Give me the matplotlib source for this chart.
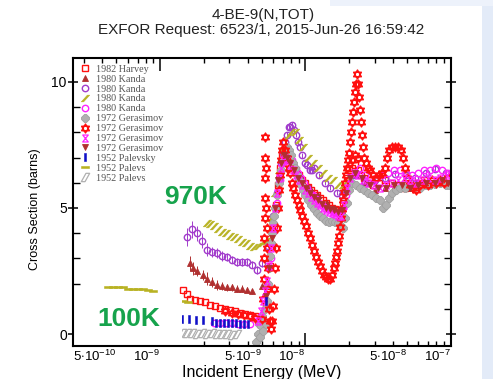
import matplotlib
matplotlib.use('Agg')
import matplotlib.pyplot as plt
from matplotlib.path import Path
from matplotlib.patches import Rectangle
from matplotlib.ticker import FixedLocator, FixedFormatter
from matplotlib.font_manager import FontProperties

plt.rcParams['font.family'] = ['Liberation Sans', 'DejaVu Sans']
plt.rcParams['mathtext.fontset'] = 'custom'
plt.rcParams['mathtext.rm'] = 'Liberation Sans'
plt.rcParams['mathtext.it'] = 'Liberation Sans:italic'
plt.rcParams['mathtext.bf'] = 'Liberation Sans:bold'

# ---------------- data (energy in MeV, cross section in barns) ----------------
harvey_x = [1.44e-9, 1.53e-9, 1.61e-9, 1.74e-9, 1.89e-9, 2.04e-9, 2.21e-9, 2.39e-9, 2.59e-9, 2.81e-9,
            3.04e-9, 3.29e-9, 3.56e-9, 3.86e-9, 4.18e-9, 4.52e-9, 5.04e-9,
            5.38e-9, 5.56e-9, 5.74e-9, 5.92e-9, 6.11e-9, 6.31e-9, 6.51e-9, 6.72e-9, 6.94e-9, 7.16e-9,
            7.51e-9, 7.88e-9, 8.27e-9, 8.67e-9, 9.09e-9, 9.54e-9, 1.0e-8, 1.049e-8, 1.100e-8, 1.154e-8,
            1.210e-8, 1.269e-8, 1.331e-8, 1.396e-8, 1.464e-8, 1.535e-8, 1.610e-8, 1.689e-8, 1.771e-8, 1.829e-8,
            1.887e-8, 1.948e-8, 2.011e-8, 2.110e-8, 2.213e-8, 2.321e-8, 2.434e-8, 2.553e-8, 2.720e-8, 2.944e-8,
            3.238e-8, 3.562e-8, 3.981e-8, 4.379e-8, 4.894e-8, 5.298e-8, 5.828e-8, 6.617e-8, 7.513e-8, 8.531e-8,
            9.687e-8]
harvey_y = [1.75, 1.6, 1.4, 1.35, 1.3, 1.25, 1.15, 1.1, 1.05, 1.0,
            0.95, 0.9, 0.85, 0.8, 0.75, 0.7, 0.6,
            1.2, 1.9, 2.7, 3.5, 4.3, 5.1, 5.9, 6.6, 7.1, 7.3,
            7.1, 6.9, 6.7, 6.5, 6.3, 6.1, 6.0, 5.85, 5.7, 5.6,
            5.5, 5.4, 5.3, 5.2, 5.1, 5.0, 4.95, 4.9, 4.9, 5.2,
            5.7, 6.2, 6.5, 6.6, 6.7, 6.5, 6.3, 6.2, 6.0, 5.9,
            6.0, 6.1, 6.0, 5.9, 5.8, 5.9, 6.0, 6.1, 6.0, 6.1,
            6.0]

kanda_tri_x = [1.61e-9, 1.69e-9, 1.80e-9, 1.98e-9, 2.11e-9, 2.28e-9, 2.47e-9, 2.68e-9, 2.90e-9, 3.14e-9,
               3.40e-9, 3.68e-9, 3.98e-9, 4.31e-9, 5.05e-9, 5.55e-9, 6.0e-9, 6.5e-9, 7.05e-9, 7.62e-9,
               8.53e-9, 9.5e-9, 1.08e-8, 1.22e-8, 1.40e-8, 1.58e-8, 1.80e-8, 1.98e-8, 2.21e-8, 2.59e-8,
               3.04e-8, 3.56e-8, 4.18e-8, 5.30e-8, 6.73e-8, 8.53e-8]
kanda_tri_y = [2.8, 2.6, 2.5, 2.35, 2.2, 2.05, 1.95, 1.9, 1.85, 1.85,
               1.8, 1.8, 1.75, 1.7, 1.9, 3.0, 4.5, 6.0, 7.0, 6.9,
               6.5, 6.2, 5.8, 5.5, 5.2, 5.0, 4.9, 5.8, 6.3, 6.0,
               5.7, 5.8, 5.9, 5.8, 5.9, 6.0]
kanda_tri_err = [0.3, 0.25, 0.2, 0.2, 0.25, 0.2, 0.2, 0.15, 0.15, 0.15,
                 0.15, 0.15, 0.1, 0.1, 0.1, 0.1, 0.1, 0.1, 0.1, 0.1,
                 0.1, 0.1, 0.1, 0.1, 0.1, 0.1, 0.1, 0.1, 0.1, 0.1,
                 0.1, 0.1, 0.1, 0.1, 0.1, 0.1]

kanda_circ_x = [1.53e-9, 1.66e-9, 1.80e-9, 1.95e-9, 2.11e-9, 2.28e-9, 2.47e-9, 2.68e-9, 2.90e-9, 3.14e-9,
                3.40e-9, 3.68e-9, 3.98e-9, 4.31e-9, 4.66e-9, 5.05e-9, 5.55e-9, 6.0e-9, 6.42e-9, 6.62e-9,
                6.82e-9, 7.05e-9, 7.28e-9, 7.51e-9, 7.75e-9, 7.88e-9, 8.12e-9, 8.40e-9, 8.65e-9, 8.95e-9,
                9.24e-9, 9.54e-9, 1.0e-8, 1.032e-8, 1.08e-8, 1.118e-8, 1.15e-8, 1.25e-8, 1.37e-8, 1.49e-8,
                1.64e-8, 1.80e-8, 2.21e-8, 2.59e-8, 3.04e-8, 3.56e-8, 4.18e-8, 4.90e-8, 5.74e-8, 6.73e-8,
                7.88e-8, 9.24e-8]
kanda_circ_y = [3.85, 4.15, 4.0, 3.7, 3.35, 3.25, 3.2, 3.1, 3.05, 2.95,
                2.85, 2.85, 2.85, 2.75, 2.55, 2.8, 3.5, 4.7, 5.6, 6.2,
                6.8, 7.2, 7.6, 7.9, 8.2, 8.2, 8.3, 8.1, 7.9, 7.6,
                7.4, 7.1, 6.8, 6.7, 6.5, 6.5, 6.6, 6.3, 6.0, 5.8,
                5.6, 5.5, 6.3, 6.0, 6.1, 6.2, 6.35, 6.3, 6.2, 6.4,
                6.55, 6.4]
kanda_circ_err = [0.35, 0.35, 0.3, 0.3, 0.25, 0.2, 0.2, 0.2, 0.15, 0.15,
                  0.15, 0.15, 0.15, 0.15, 0.15, 0.15, 0.1, 0.1, 0.1, 0.1,
                  0.1, 0.1, 0.1, 0.1, 0.1, 0.1, 0.1, 0.1, 0.1, 0.1,
                  0.1, 0.1, 0.1, 0.1, 0.1, 0.1, 0.1, 0.1, 0.1, 0.1,
                  0.1, 0.1, 0.1, 0.1, 0.1, 0.1, 0.1, 0.1, 0.1, 0.1,
                  0.1, 0.1]

kanda_slash_x = [2.11e-9, 2.21e-9, 2.36e-9, 2.51e-9, 2.68e-9, 2.85e-9, 3.04e-9, 3.24e-9, 3.45e-9, 3.68e-9,
                 3.92e-9, 4.18e-9, 4.45e-9, 4.74e-9, 5.05e-9, 5.38e-9, 5.82e-9, 6.21e-9, 6.6e-9, 7.05e-9,
                 7.5e-9, 8.0e-9, 8.53e-9, 9.1e-9, 9.7e-9, 1.05e-8, 1.13e-8, 1.22e-8, 1.33e-8, 1.44e-8,
                 1.56e-8, 1.69e-8, 1.83e-8, 1.98e-8]
kanda_slash_y = [4.4, 4.35, 4.3, 4.15, 4.05, 4.0, 3.9, 3.85, 3.75, 3.65,
                 3.6, 3.5, 3.45, 3.5, 3.6, 3.7, 4.6, 5.6, 6.5, 7.4,
                 7.8, 8.0, 8.0, 7.7, 7.4, 7.0, 6.8, 6.6, 6.4, 6.2,
                 6.1, 5.9, 5.9, 6.1]

kanda_mag_x = [2.36e-9, 2.59e-9, 2.85e-9, 3.14e-9, 3.45e-9, 3.80e-9, 4.18e-9,
               5.56e-9, 5.83e-9, 6.11e-9, 6.41e-9, 6.72e-9, 7.05e-9, 7.40e-9, 7.76e-9, 8.14e-9, 8.53e-9,
               8.95e-9, 9.38e-9, 9.84e-9, 1.032e-8, 1.083e-8, 1.136e-8, 1.191e-8, 1.249e-8, 1.310e-8, 1.374e-8,
               1.441e-8, 1.511e-8, 1.585e-8, 1.662e-8, 1.743e-8, 1.829e-8, 1.918e-8,
               2.044e-8, 2.213e-8, 2.395e-8, 2.594e-8, 2.808e-8, 3.088e-8, 3.396e-8, 3.74e-8, 4.11e-8, 4.52e-8,
               4.97e-8, 5.47e-8, 6.02e-8, 6.617e-8, 7.28e-8, 8.006e-8, 8.8e-8, 9.687e-8]
kanda_mag_y = [0.45, 0.45, 0.42, 0.42, 0.4, 0.4, 0.38,
               2.0, 3.0, 4.1, 5.2, 6.1, 6.8, 7.2, 7.1, 6.9, 6.6,
               6.4, 6.2, 6.0, 5.8, 5.6, 5.5, 5.35, 5.2, 5.1, 5.0,
               4.95, 4.9, 4.85, 4.8, 4.8, 5.0, 5.5,
               6.0, 6.4, 6.6, 6.3, 6.1, 6.2, 6.3, 6.4, 6.5, 6.5,
               6.4, 6.3, 6.4, 6.5, 6.5, 6.6, 6.5, 6.4]

geras_gray_x = [4.59e-9, 4.74e-9, 4.82e-9, 4.89e-9, 4.97e-9, 5.05e-9, 5.13e-9, 5.22e-9, 5.30e-9, 5.38e-9,
                5.47e-9, 5.56e-9, 5.65e-9, 5.74e-9, 5.83e-9, 5.92e-9, 6.02e-9, 6.11e-9, 6.21e-9, 6.41e-9,
                6.62e-9, 6.83e-9, 7.05e-9, 7.28e-9, 7.51e-9, 7.76e-9, 8.01e-9, 8.27e-9, 8.53e-9, 8.81e-9,
                9.09e-9, 9.38e-9, 9.69e-9, 1.0e-8, 1.049e-8, 1.100e-8, 1.154e-8, 1.210e-8, 1.269e-8, 1.331e-8,
                1.396e-8, 1.464e-8, 1.535e-8, 1.610e-8, 1.689e-8, 1.771e-8, 1.829e-8, 1.887e-8, 1.948e-8, 2.011e-8,
                2.110e-8, 2.248e-8, 2.395e-8, 2.553e-8, 2.720e-8, 2.90e-8, 3.088e-8, 3.29e-8, 3.45e-8, 3.62e-8,
                3.796e-8, 3.981e-8, 4.24e-8, 4.52e-8, 4.894e-8, 5.298e-8, 5.74e-8, 6.211e-8, 6.73e-8, 7.28e-8,
                7.88e-8, 8.531e-8, 9.24e-8, 9.84e-8]
geras_gray_y = [-0.3, 0.0, 0.4, -0.1, 0.3, 0.7, 0.1, 0.5, 1.0, 0.4,
                1.3, 2.0, 2.6, 3.1, 3.6, 4.0, 4.4, 4.7, 5.0, 5.5,
                6.0, 6.5, 6.9, 7.2, 7.4, 7.3, 7.1, 6.8, 6.6, 6.3,
                6.1, 5.9, 5.7, 5.5, 5.3, 5.1, 4.95, 4.8, 4.7, 4.6,
                4.5, 4.45, 4.5, 4.45, 4.4, 4.3, 4.2, 4.6, 5.2, 5.7,
                6.0, 5.9, 5.8, 5.7, 5.6, 5.5, 5.4, 5.3, 5.0, 5.1,
                5.4, 5.6, 5.7, 5.8, 5.8, 5.9, 5.85, 5.8, 5.9, 5.9,
                5.95, 6.0, 5.9, 5.9]

geras_star_x = [2.81e-9, 3.14e-9, 3.45e-9, 3.80e-9, 4.18e-9, 4.52e-9,
                5.05e-9, 5.13e-9, 5.17e-9, 5.22e-9, 5.22e-9, 5.26e-9, 5.26e-9, 5.30e-9, 5.30e-9, 5.30e-9,
                5.34e-9, 5.38e-9, 5.43e-9, 5.47e-9, 5.51e-9, 5.56e-9, 5.65e-9, 5.74e-9, 5.83e-9, 5.92e-9,
                6.02e-9, 6.11e-9, 6.21e-9, 6.31e-9, 6.41e-9, 6.51e-9, 6.62e-9, 6.72e-9, 6.83e-9, 6.94e-9,
                7.05e-9, 7.28e-9, 7.51e-9, 7.76e-9, 7.88e-9, 8.14e-9, 8.27e-9, 8.53e-9, 8.81e-9, 9.09e-9,
                9.24e-9, 9.54e-9, 9.84e-9, 1.016e-8, 1.049e-8, 1.083e-8, 1.118e-8, 1.154e-8, 1.191e-8, 1.229e-8,
                1.269e-8, 1.310e-8, 1.352e-8, 1.396e-8, 1.441e-8, 1.487e-8, 1.535e-8, 1.585e-8, 1.610e-8, 1.636e-8,
                1.662e-8, 1.689e-8, 1.716e-8, 1.743e-8, 1.771e-8, 1.800e-8, 1.829e-8, 1.858e-8, 1.887e-8, 1.918e-8,
                1.948e-8, 1.980e-8, 2.011e-8, 2.044e-8, 2.076e-8, 2.110e-8, 2.143e-8, 2.178e-8, 2.213e-8, 2.248e-8,
                2.284e-8, 2.321e-8, 2.358e-8, 2.395e-8, 2.434e-8, 2.473e-8, 2.512e-8, 2.110e-8, 2.213e-8, 2.321e-8,
                2.553e-8, 2.635e-8, 2.720e-8, 2.808e-8, 2.944e-8, 3.088e-8, 3.238e-8, 3.396e-8, 3.562e-8, 3.678e-8,
                3.796e-8, 3.981e-8, 4.175e-8, 4.379e-8, 4.592e-8, 4.742e-8, 4.894e-8, 5.052e-8, 5.298e-8, 5.557e-8,
                5.828e-8, 6.211e-8, 6.617e-8, 7.052e-8, 7.513e-8, 8.006e-8, 8.531e-8, 9.091e-8, 9.687e-8]
geras_star_y = [0.9, 0.85, 0.8, 0.75, 0.7, 0.65,
                0.6, 1.4, 2.2, 3.0, 3.8, 4.6, 5.4, 6.2, 7.0, 7.8,
                6.6, 5.0, 4.2, 3.4, 2.6, 1.8, 1.0, 0.5, 0.2, 0.5,
                1.1, 1.8, 2.6, 3.4, 4.2, 5.0, 5.7, 6.3, 6.9, 7.3,
                7.6, 7.3, 7.0, 6.6, 6.4, 6.0, 5.8, 5.5, 5.3, 5.1,
                4.9, 4.7, 4.5, 4.3, 4.0, 3.8, 3.55, 3.3, 3.05, 2.85,
                2.7, 2.5, 2.35, 2.25, 2.2, 2.2, 2.35, 2.6, 2.8, 3.05,
                3.3, 3.6, 3.9, 4.25, 4.6, 4.95, 5.3, 5.65, 6.0, 6.3,
                6.6, 6.9, 7.2, 7.6, 8.0, 8.4, 8.8, 9.2, 9.6, 9.9,
                10.3, 9.9, 9.4, 8.9, 8.4, 7.9, 7.4, 6.9, 7.1, 7.0,
                7.0, 6.8, 6.6, 6.5, 6.3, 6.2, 6.3, 6.4, 6.6, 7.0,
                7.3, 7.4, 7.4, 7.4, 7.3, 7.0, 6.6, 6.2, 5.9, 5.8,
                5.7, 5.9, 6.0, 5.9, 6.1, 6.0, 6.1, 6.0, 6.2]

geras_mag_x = [4.74e-9, 4.97e-9, 5.13e-9, 5.30e-9, 5.47e-9, 5.65e-9, 5.83e-9, 6.02e-9, 6.21e-9, 6.41e-9,
               6.62e-9, 6.83e-9, 7.05e-9, 7.28e-9, 7.51e-9, 7.88e-9, 8.27e-9, 8.67e-9, 9.09e-9, 9.54e-9,
               1.0e-8, 1.049e-8, 1.100e-8, 1.154e-8, 1.210e-8, 1.269e-8, 1.331e-8, 1.396e-8, 1.464e-8, 1.535e-8,
               1.610e-8, 1.689e-8, 1.771e-8, 1.858e-8, 1.948e-8, 2.044e-8, 2.178e-8, 2.321e-8, 2.512e-8, 2.720e-8,
               2.99e-8, 3.29e-8, 3.62e-8, 3.981e-8, 4.379e-8, 4.82e-8, 5.298e-8, 5.828e-8, 6.41e-8, 7.052e-8,
               7.76e-8, 8.531e-8, 9.39e-8]
geras_mag_y = [0.5, 0.9, 1.3, 1.7, 2.1, 2.7, 3.4, 4.2, 5.0, 5.6,
               6.2, 6.6, 6.9, 7.0, 6.9, 6.7, 6.5, 6.3, 6.1, 5.9,
               5.7, 5.6, 5.45, 5.3, 5.2, 5.1, 5.0, 4.9, 4.85, 4.8,
               4.75, 4.7, 4.7, 5.1, 5.8, 6.2, 6.4, 6.3, 6.1, 6.0,
               5.9, 5.8, 5.9, 6.0, 6.1, 6.2, 6.1, 6.0, 6.1, 6.2,
               6.1, 6.2, 6.3]

geras_tri_x = [5.38e-9, 5.65e-9, 5.92e-9, 6.21e-9, 6.51e-9, 6.83e-9, 7.16e-9, 7.51e-9, 7.88e-9, 8.40e-9,
               8.95e-9, 9.54e-9, 1.016e-8, 1.083e-8, 1.154e-8, 1.229e-8, 1.310e-8, 1.396e-8, 1.487e-8, 1.585e-8,
               1.689e-8, 1.800e-8, 1.918e-8, 2.044e-8, 2.213e-8, 2.473e-8, 2.808e-8, 3.19e-8, 3.62e-8, 4.11e-8,
               4.67e-8, 5.298e-8, 6.02e-8, 6.83e-8, 7.76e-8, 8.8e-8, 9.687e-8]
geras_tri_y = [1.5, 2.6, 3.8, 5.0, 6.1, 6.8, 7.1, 7.0, 6.8, 6.5,
               6.2, 6.0, 5.8, 5.6, 5.45, 5.3, 5.15, 5.0, 4.95, 4.9,
               4.85, 4.9, 5.6, 6.2, 6.4, 6.2, 5.9, 5.8, 5.8, 5.9,
               5.9, 5.8, 5.9, 6.0, 6.0, 6.1, 6.0]

palev_blue_x = [1.42e-9, 1.59e-9, 1.77e-9, 1.98e-9, 2.28e-9, 2.43e-9, 2.59e-9, 2.76e-9, 2.94e-9, 3.14e-9,
                3.34e-9, 3.56e-9, 3.80e-9, 4.05e-9, 5.38e-9]
palev_blue_y = [0.6, 0.6, 0.55, 0.55, 0.5, 0.45, 0.45, 0.45, 0.45, 0.45,
                0.45, 0.4, 0.4, 0.4, 1.3]

palev_olive_x = [4.38e-10, 4.74e-10, 5.13e-10, 5.56e-10, 6.02e-10, 6.52e-10, 7.05e-10, 7.64e-10, 8.27e-10,
                 8.95e-10, 1.44e-9, 1.56e-9]
palev_olive_y = [1.85, 1.85, 1.85, 1.85, 1.8, 1.8, 1.8, 1.78, 1.75,
                 1.72, 1.3, 1.25]

palev_gray_x = [1.42e-9, 1.53e-9, 1.66e-9, 1.80e-9, 1.95e-9, 2.11e-9, 2.28e-9, 2.47e-9, 2.68e-9, 2.90e-9,
                3.14e-9, 3.40e-9]
palev_gray_y = [0.05, 0.05, 0.05, 0.0, 0.05, 0.0, 0.05, 0.0, 0.0, 0.0,
                -0.05, 0.0]

legend_labels = ['1982 Harvey', '1980 Kanda', '1980 Kanda', '1980 Kanda', '1980 Kanda',
                 '1972 Gerasimov', '1972 Gerasimov', '1972 Gerasimov', '1972 Gerasimov',
                 '1952 Palevsky', '1952 Palevsky', '1952 Palevsky']

x_major = [1e-9, 1e-8, 1e-7]
x_major_labels = [r'$10^{-9}$', r'$10^{-8}$', r'$10^{-7}$']
x_minor = [3e-10, 4e-10, 5e-10, 6e-10, 7e-10, 8e-10, 9e-10,
           2e-9, 3e-9, 4e-9, 5e-9, 6e-9, 7e-9, 8e-9, 9e-9,
           2e-8, 3e-8, 4e-8, 5e-8, 6e-8, 7e-8, 8e-8, 9e-8]
x_minor_labels = ['', '', r'$5{\cdot}10^{-10}$', '', '', '', '',
                  '', '', '', r'$5{\cdot}10^{-9}$', '', '', '', '',
                  '', '', '', r'$5{\cdot}10^{-8}$', '', '', '', '']
y_major = [0, 5, 10]
y_minor = [1, 2, 3, 4, 6, 7, 8, 9]

title_lines = ['4-BE-9(N,TOT)', 'EXFOR Request: 6523/1, 2015-Jun-26 16:59:42']

# ---------------- markers ----------------
M, L, C = Path.MOVETO, Path.LINETO, Path.CLOSEPOLY
star = Path([(0, 1), (-0.866, -0.5), (0.866, -0.5), (0, 1),
             (0, -1), (-0.866, 0.5), (0.866, 0.5), (0, -1)], [M, L, L, C, M, L, L, C])
hourglass = Path([(-0.8, 1), (0.8, 1), (-0.8, -1), (0.8, -1), (-0.8, 1)], [M, L, L, L, C])
slant_bar = Path([(-1, -0.8), (-0.45, -0.8), (1, 0.8), (0.45, 0.8), (-1, -0.8)], [M, L, L, L, C])
slant_par = Path([(-0.9, -0.9), (-0.1, -0.9), (0.9, 0.9), (0.1, 0.9), (-0.9, -0.9)], [M, L, L, L, C])
vbar = Path([(-0.35, -1), (0.35, -1), (0.35, 1), (-0.35, 1), (-0.35, -1)], [M, L, L, L, C])
hbar = Path([(-1, -0.3), (1, -0.3), (1, 0.3), (-1, 0.3), (-1, -0.3)], [M, L, L, L, C])

RED = '#ff1010'
DRED = '#b03030'
PURP = '#a23ccc'
OLIVE = '#b8b222'
MAG = '#ff22ff'
GRAY = '#b0b0b0'
BLUE = '#1010c8'

W, H = 493, 379
fig = plt.figure(figsize=(W / 100, H / 100), dpi=100)
fig.patch.set_facecolor('white')
fig.patches.append(Rectangle((482 / W, 0), 11 / W, 1, transform=fig.transFigure,
                             facecolor='#e3ebf8', edgecolor='none', zorder=0))
fig.patches.append(Rectangle((330 / W, 1 - 6 / H), 163 / W, 6 / H, transform=fig.transFigure,
                             facecolor='#edf2fb', edgecolor='none', zorder=0))

ax = fig.add_axes([72.7 / W, 1 - 346 / H, (450.5 - 72.7) / W, (346 - 58) / H])
ax.set_xscale('log')
ax.set_xlim(2.5e-10, 1e-7)
ax.set_ylim(-0.476, 10.95)

handles = []
ax.errorbar(kanda_tri_x, kanda_tri_y, yerr=kanda_tri_err, fmt='none', ecolor=DRED, elinewidth=0.7, zorder=1.9)
ax.errorbar(kanda_circ_x, kanda_circ_y, yerr=kanda_circ_err, fmt='none', ecolor=PURP, elinewidth=0.7, zorder=1.9)

specs = [
    (harvey_x, harvey_y, dict(marker='s', mfc='none', mec=RED, ms=4.3, mew=1.0)),
    (kanda_tri_x, kanda_tri_y, dict(marker='^', mfc=DRED, mec=DRED, ms=4.2, mew=0.6)),
    (kanda_circ_x, kanda_circ_y, dict(marker='o', mfc='none', mec=PURP, ms=4.6, mew=1.0)),
    (kanda_slash_x, kanda_slash_y, dict(marker=slant_bar, mfc=OLIVE, mec=OLIVE, ms=6, mew=0.4)),
    (kanda_mag_x, kanda_mag_y, dict(marker='o', mfc='none', mec=MAG, ms=4.6, mew=1.0)),
    (geras_gray_x, geras_gray_y, dict(marker='8', mfc=GRAY, mec='#a0a0a0', ms=5.6, mew=0.6)),
    (geras_star_x, geras_star_y, dict(marker=star, mfc='none', mec=RED, ms=6.5, mew=1.0)),
    (geras_mag_x, geras_mag_y, dict(marker=hourglass, mfc='none', mec=MAG, ms=5, mew=0.9)),
    (geras_tri_x, geras_tri_y, dict(marker='v', mfc=DRED, mec=DRED, ms=4.2, mew=0.6)),
    (palev_blue_x, palev_blue_y, dict(marker=vbar, mfc=BLUE, mec=BLUE, ms=5.5, mew=0.4)),
    (palev_olive_x, palev_olive_y, dict(marker=hbar, mfc=OLIVE, mec=OLIVE, ms=6, mew=0.4)),
    (palev_gray_x, palev_gray_y, dict(marker=slant_par, mfc='none', mec=GRAY, ms=6, mew=0.9)),
]
for (xs, ys, st), lab in zip(specs, legend_labels):
    h, = ax.plot(xs, ys, linestyle='none', label=lab, zorder=2, **st)
    handles.append(h)

# ticks
ax.xaxis.set_major_locator(FixedLocator(x_major))
ax.xaxis.set_major_formatter(FixedFormatter(x_major_labels))
ax.xaxis.set_minor_locator(FixedLocator(x_minor))
ax.xaxis.set_minor_formatter(FixedFormatter(x_minor_labels))
ax.yaxis.set_major_locator(FixedLocator(y_major))
ax.yaxis.set_minor_locator(FixedLocator(y_minor))
ax.tick_params(axis='x', which='major', direction='in', length=9.5, width=1.1, top=True,
               labelsize=9.5, pad=2)
ax.tick_params(axis='x', which='minor', direction='in', length=3.8, width=1.0, top=True,
               labelsize=9.5, pad=2)
ax.tick_params(axis='y', which='major', direction='inout', length=7.5, width=1.1, right=True,
               labelsize=10, pad=0.5)
ax.tick_params(axis='y', which='minor', direction='in', length=5, width=1.0, right=True)
for lab in ax.xaxis.get_majorticklabels() + ax.xaxis.get_minorticklabels():
    lab.set_horizontalalignment('right')
for sp in ax.spines.values():
    sp.set_linewidth(1.5)
    sp.set_zorder(2.6)
ax.xaxis.set_zorder(2.4)

ax.set_xlabel('Incident Energy (MeV)', fontsize=11.5, labelpad=1)
ax.set_ylabel('Cross Section (barns)', fontsize=9)
ax.yaxis.set_label_coords(-0.084, 0.476)

leg = ax.legend(handles, legend_labels, loc='upper left', bbox_to_anchor=(0.019, 0.977),
                frameon=False, prop=FontProperties(family='Liberation Serif', size=7.3),
                handlelength=1.0, handletextpad=0.55, labelspacing=0.08, borderpad=0,
                borderaxespad=0, numpoints=1)
for t in leg.get_texts():
    t.set_color('#555555')
leg.set_zorder(5)

# white cover boxes behind the temperature labels
ax.add_patch(Rectangle((74 / W, 1 - 345 / H), 108 / W, 51 / H, transform=fig.transFigure,
                       facecolor='white', edgecolor='none', zorder=2.45))
ax.add_patch(Rectangle((146 / W, 1 - 218 / H), 96 / W, 54 / H, transform=fig.transFigure,
                       facecolor='white', edgecolor='none', zorder=6))

fig.text(195.5 / W, 1 - 197 / H, '970K', fontsize=19, fontweight='bold', color='#16a34c',
         ha='center', va='center', zorder=7)
fig.text(128.5 / W, 1 - 318.5 / H, '100K', fontsize=19, fontweight='bold', color='#16a34c',
         ha='center', va='center', zorder=7)

fig.text(263 / W, 1 - 15 / H, title_lines[0], fontsize=11, ha='center', va='center', color='#222222')
fig.text(261 / W, 1 - 30 / H, title_lines[1], fontsize=11, ha='center', va='center', color='#222222')

fig.savefig('out.png', dpi=100)
